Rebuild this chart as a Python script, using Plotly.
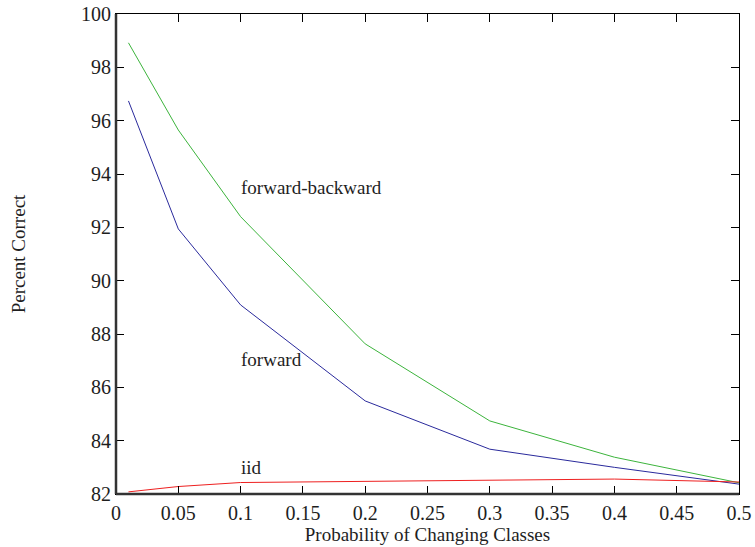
import plotly.graph_objects as go

# Probability of changing classes
p_change = [0.01, 0.05, 0.1, 0.2, 0.3, 0.4, 0.5]

# Percent correct for each inference method
fwd_bwd = [98.92, 95.65, 92.40, 87.63, 84.74, 83.38, 82.42]
forward = [96.74, 91.94, 89.09, 85.49, 83.68, 83.00, 82.37]
iid = [82.08, 82.28, 82.43, 82.48, 82.51, 82.56, 82.45]

x_ticks = [0, 0.05, 0.1, 0.15, 0.2, 0.25, 0.3, 0.35, 0.4, 0.45, 0.5]
x_tick_text = ["0", "0.05", "0.1", "0.15", "0.2", "0.25", "0.3", "0.35", "0.4", "0.45", "0.5"]
y_ticks = [82, 84, 86, 88, 90, 92, 94, 96, 98, 100]

FONT = "Liberation Serif"
TXT = "#1e1e1e"

fig = go.Figure()
fig.add_trace(go.Scatter(x=p_change, y=fwd_bwd, mode="lines",
                         line=dict(color="#3cb43c", width=1), name="forward-backward"))
fig.add_trace(go.Scatter(x=p_change, y=forward, mode="lines",
                         line=dict(color="#2a2a9c", width=1), name="forward"))
fig.add_trace(go.Scatter(x=p_change, y=iid, mode="lines",
                         line=dict(color="#ee2020", width=1), name="iid"))

# Inline curve labels
for text, yv in [("forward-backward", 93.49), ("forward", 87.03), ("iid", 82.98)]:
    fig.add_annotation(x=0.1, y=yv, text=text, showarrow=False,
                       xanchor="left", yanchor="middle", xshift=-2,
                       font=dict(family=FONT, size=19, color=TXT))

axis_common = dict(showgrid=False, zeroline=False, showline=True, linecolor="black",
                   linewidth=1, mirror="ticks", ticks="inside", ticklen=8,
                   tickcolor="black", automargin=False,
                   tickfont=dict(family=FONT, size=20, color=TXT))

fig.update_xaxes(range=[0, 0.5], tickvals=x_ticks, ticktext=x_tick_text,
                 ticklabelstandoff=1,
                 title=dict(text="Probability of Changing Classes",
                            font=dict(family=FONT, size=19, color=TXT), standoff=0),
                 **axis_common)
fig.update_yaxes(range=[82, 100], tickvals=y_ticks,
                 title=dict(text="Percent Correct",
                            font=dict(family=FONT, size=19, color=TXT), standoff=50),
                 **axis_common)

# Heavier left and bottom border lines
fig.add_shape(type="line", xref="paper", yref="paper", x0=0, x1=0, y0=0, y1=1,
              line=dict(color="#333", width=2.5))
fig.add_shape(type="line", xref="paper", yref="paper", x0=0, x1=1, y0=0, y1=0,
              line=dict(color="#333", width=2.5))

fig.update_layout(width=755, height=547, showlegend=False,
                  plot_bgcolor="white", paper_bgcolor="white",
                  margin=dict(l=116, r=16, t=14, b=53))

fig.write_html("out.html")
